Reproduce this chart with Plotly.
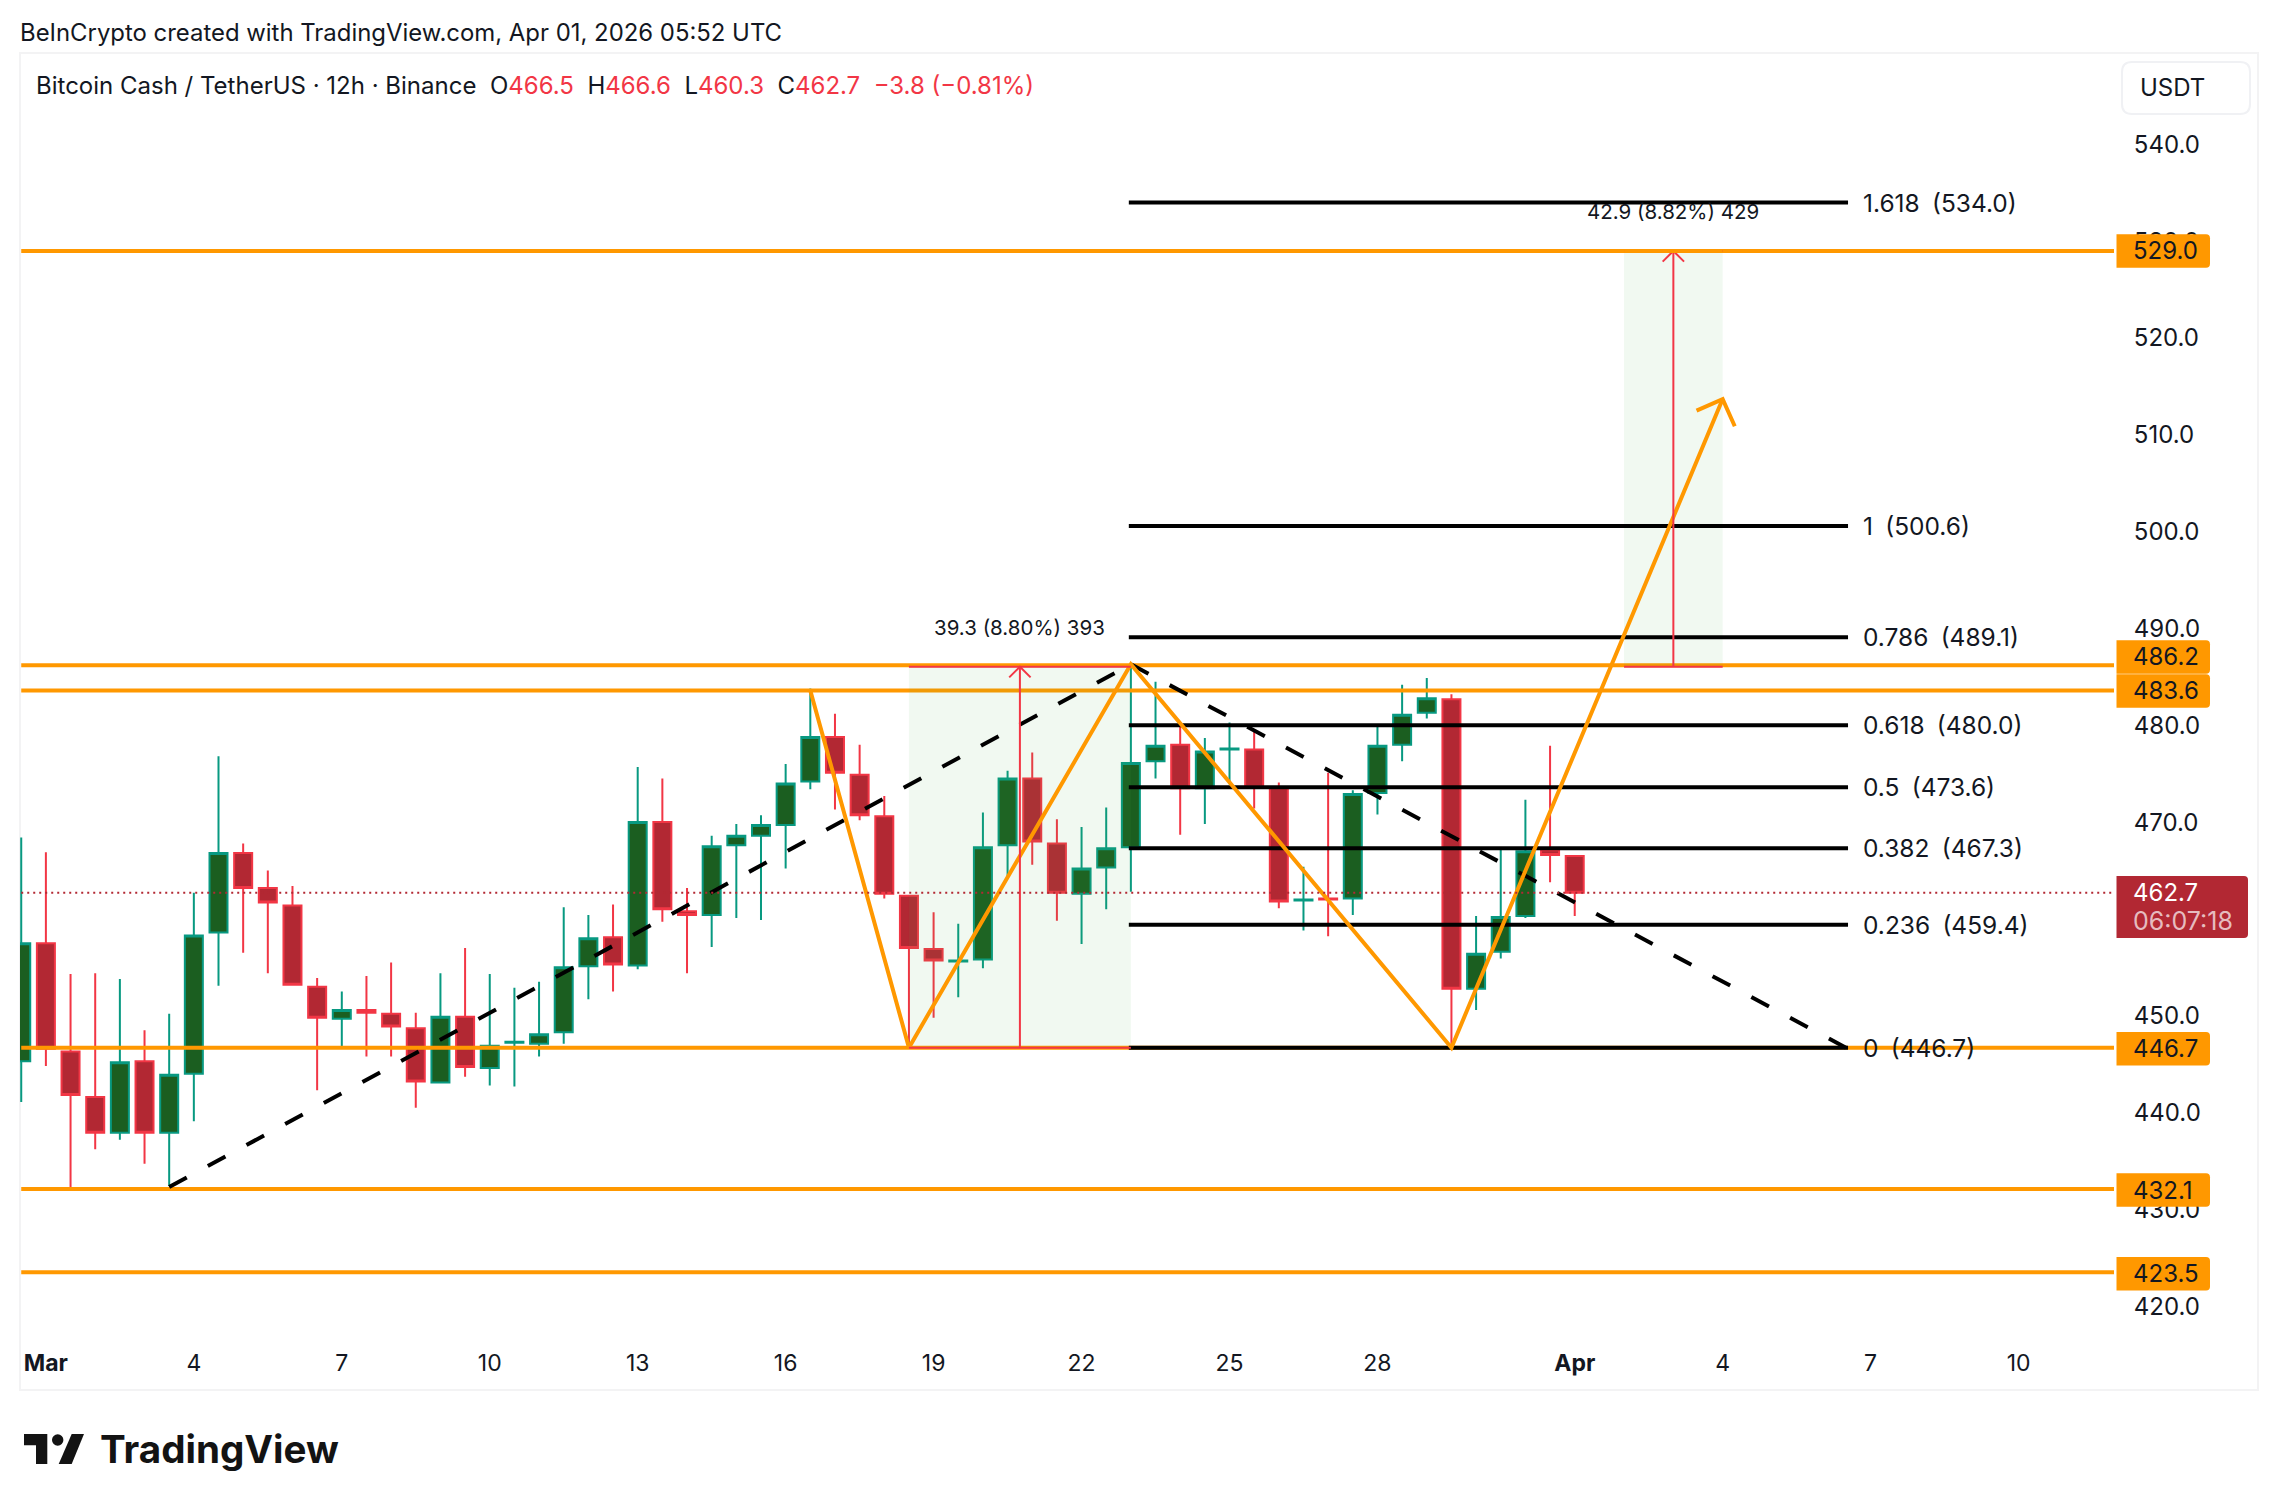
import plotly.graph_objects as go

W, H = 2278, 1510
FONT = "Inter"

# candles, 12h bars
times = [
    "2026-02-28 12:00", "2026-03-01 00:00", "2026-03-01 12:00", "2026-03-02 00:00", "2026-03-02 12:00",
    "2026-03-03 00:00", "2026-03-03 12:00", "2026-03-04 00:00", "2026-03-04 12:00", "2026-03-05 00:00",
    "2026-03-05 12:00", "2026-03-06 00:00", "2026-03-06 12:00", "2026-03-07 00:00", "2026-03-07 12:00",
    "2026-03-08 00:00", "2026-03-08 12:00", "2026-03-09 00:00", "2026-03-09 12:00", "2026-03-10 00:00",
    "2026-03-10 12:00", "2026-03-11 00:00", "2026-03-11 12:00", "2026-03-12 00:00", "2026-03-12 12:00",
    "2026-03-13 00:00", "2026-03-13 12:00", "2026-03-14 00:00", "2026-03-14 12:00", "2026-03-15 00:00",
    "2026-03-15 12:00", "2026-03-16 00:00", "2026-03-16 12:00", "2026-03-17 00:00", "2026-03-17 12:00",
    "2026-03-18 00:00", "2026-03-18 12:00", "2026-03-19 00:00", "2026-03-19 12:00", "2026-03-20 00:00",
    "2026-03-20 12:00", "2026-03-21 00:00", "2026-03-21 12:00", "2026-03-22 00:00", "2026-03-22 12:00",
    "2026-03-23 00:00", "2026-03-23 12:00", "2026-03-24 00:00", "2026-03-24 12:00", "2026-03-25 00:00",
    "2026-03-25 12:00", "2026-03-26 00:00", "2026-03-26 12:00", "2026-03-27 00:00", "2026-03-27 12:00",
    "2026-03-28 00:00", "2026-03-28 12:00", "2026-03-29 00:00", "2026-03-29 12:00", "2026-03-30 00:00",
    "2026-03-30 12:00", "2026-03-31 00:00", "2026-03-31 12:00", "2026-04-01 00:00",
]
opens = [
    445.3, 457.5, 446.3, 441.6, 437.9, 445.3, 437.9, 444.0, 458.6, 466.8, 463.2, 461.4, 453.0, 449.7, 450.6, 450.2,
    448.7, 443.1, 449.9, 444.6, 447.2, 447.1, 448.3, 455.1, 458.1, 455.2, 470.0, 460.8, 460.4, 467.6, 468.6, 469.7,
    474.2, 478.8, 474.9, 470.6, 462.4, 456.9, 455.6, 455.8, 467.6, 474.5, 467.8, 462.6, 465.3, 467.4, 476.3, 478.0,
    473.5, 477.5, 477.5, 473.5, 461.9, 462.1, 462.1, 473.0, 478.0, 481.3, 482.7, 452.8, 456.6, 460.3, 467.1, 466.5,
]
highs = [
    468.4, 466.9, 454.3, 454.4, 453.8, 448.5, 450.2, 462.7, 476.8, 467.8, 465.0, 463.4, 453.9, 452.5, 454.1, 455.5,
    450.3, 454.4, 457.0, 454.3, 452.9, 453.5, 461.2, 460.4, 461.5, 475.7, 474.5, 463.2, 468.6, 469.8, 470.7, 476.0,
    483.8, 481.2, 478.0, 472.7, 462.4, 460.7, 459.5, 471.0, 475.3, 477.2, 470.3, 469.5, 471.5, 486.4, 484.5, 480.2,
    478.7, 480.3, 479.4, 474.1, 465.4, 475.1, 473.3, 480.1, 484.2, 484.9, 483.2, 460.3, 467.4, 472.3, 477.9, 466.6,
]
lows = [
    441.1, 444.8, 432.1, 436.2, 437.2, 434.7, 432.4, 439.1, 453.1, 456.5, 454.4, 453.2, 442.3, 446.7, 445.8, 445.8,
    440.5, 443.1, 443.7, 442.8, 442.7, 445.8, 447.1, 451.7, 452.5, 454.8, 459.7, 454.4, 457.1, 460.1, 459.9, 465.2,
    473.4, 471.3, 470.2, 462.1, 446.7, 449.8, 451.9, 454.9, 464.2, 465.6, 459.8, 457.4, 461.0, 462.8, 474.5, 468.7,
    469.8, 473.9, 471.4, 461.1, 458.8, 458.2, 460.4, 470.8, 476.3, 480.7, 446.9, 450.6, 455.9, 460.1, 463.8, 460.3,
]
closes = [
    457.5, 446.6, 441.8, 437.9, 445.2, 437.9, 443.9, 458.3, 466.8, 463.2, 461.7, 453.2, 449.8, 450.6, 450.3, 448.9,
    443.2, 449.9, 444.7, 446.9, 447.3, 448.1, 455.0, 458.0, 455.3, 470.0, 461.0, 460.4, 467.5, 468.6, 469.7, 474.0,
    478.8, 475.1, 470.7, 462.6, 457.0, 455.7, 455.7, 467.4, 474.5, 468.0, 462.7, 465.2, 467.3, 476.1, 477.9, 473.5,
    477.3, 477.6, 473.6, 461.8, 462.0, 462.0, 472.9, 477.9, 481.1, 482.8, 452.8, 456.4, 460.2, 467.0, 466.6, 462.7,
]

# levels and drawings
level_prices = [529.0, 486.2, 483.6, 446.7, 432.1, 423.5]
level_tag_y = [251, 657, 691, 1048.7, 1190, 1273.7]
fib_ratios = ["1.618", "1", "0.786", "0.618", "0.5", "0.382", "0.236", "0"]
fib_prices = [534.0, 500.6, 489.1, 480.0, 473.6, 467.3, 459.4, 446.7]
fib_start, fib_end = "2026-03-22 23:00", "2026-04-06 13:00"
last_price = 462.7

dash_up_t = ["2026-03-03 12:00", "2026-03-23 00:00"]
dash_up_p = [432.3, 486.3]
dash_down_t = ["2026-03-23 00:00", "2026-04-06 12:00"]
dash_down_p = [486.3, 446.7]

zigzag_t = ["2026-03-16 12:00", "2026-03-18 12:00", "2026-03-23 00:00", "2026-03-29 12:00", "2026-04-04 00:00"]
zigzag_p = [483.6, 446.7, 486.3, 446.7, 513.7]
head_t = ["2026-04-03 11:17", "2026-04-04 00:00", "2026-04-04 05:53"]
head_p = [512.5, 513.7, 510.9]

box1_t = ["2026-03-18 12:00", "2026-03-23 00:00"]
box1_p = [446.7, 486.05]
arrow1_t = "2026-03-20 18:00"
box2_t = ["2026-04-02 00:00", "2026-04-04 00:00"]
box2_p = [486.05, 529.0]
arrow2_t = "2026-04-03 00:00"
arrow_head_hours = 5.2
arrow_head_price = 1.1

y_ticks = [420, 430, 440, 450, 470, 480, 490, 500, 510, 520, 530, 540]
x_ticks = [
    "2026-03-01", "2026-03-04", "2026-03-07", "2026-03-10", "2026-03-13", "2026-03-16", "2026-03-19",
    "2026-03-22", "2026-03-25", "2026-03-28", "2026-04-01", "2026-04-04", "2026-04-07", "2026-04-10",
]
x_labels = ["<b>Mar</b>", "4", "7", "10", "13", "16", "19", "22", "25", "28", "<b>Apr</b>", "4", "7", "10"]

ORANGE = "#FF9800"
RED = "#F23645"
TEXT = "#131722"


def px(x):
    return x / W


def py(y):
    return 1 - y / H


def shift_time(t, hours):
    from datetime import datetime, timedelta
    d = datetime.strptime(t, "%Y-%m-%d %H:%M") + timedelta(hours=hours)
    return d.strftime("%Y-%m-%d %H:%M")


def line(x, y, color, width, dash="solid"):
    return go.Scatter(x=x, y=y, mode="lines", line=dict(color=color, width=width, dash=dash),
                      hoverinfo="skip", showlegend=False)


def zone(t, p):
    return go.Scatter(x=[t[0], t[1], t[1], t[0], t[0]], y=[p[0], p[0], p[1], p[1], p[0]], mode="lines",
                      line=dict(width=0), fill="toself", fillcolor="rgba(76,175,80,0.08)",
                      hoverinfo="skip", showlegend=False)


def tag_path(x0, y0, x1, y1, r=4):
    # square on the left, small round corners on the right
    return (f"M {px(x0)} {py(y0)} L {px(x1 - r)} {py(y0)} Q {px(x1)} {py(y0)} {px(x1)} {py(y0 + r)} "
            f"L {px(x1)} {py(y1 - r)} Q {px(x1)} {py(y1)} {px(x1 - r)} {py(y1)} L {px(x0)} {py(y1)} Z")


fig = go.Figure()

for p in level_prices:
    fig.add_trace(line([times[0], "2026-04-12 00:00"], [p, p], ORANGE, 4))

fig.add_trace(zone(box1_t, box1_p))
fig.add_trace(zone(box2_t, box2_p))

for p in fib_prices:
    fig.add_trace(line([fib_start, fib_end], [p, p], "#000000", 4))

fig.add_trace(line(dash_up_t, dash_up_p, "#000000", 4, "20px,24px"))
fig.add_trace(line(dash_down_t, dash_down_p, "#000000", 4, "20px,24px"))
fig.add_trace(line(zigzag_t, zigzag_p, ORANGE, 4))
fig.add_trace(line(head_t, head_p, ORANGE, 4))

for box, top, arrow_t in [(box1_t, box1_p, arrow1_t), (box2_t, box2_p, arrow2_t)]:
    fig.add_trace(line(box, [top[0], top[0]], RED, 2))
    fig.add_trace(line(box, [top[1], top[1]], RED, 2))
    fig.add_trace(line([arrow_t, arrow_t], top, RED, 2))
    fig.add_trace(line([shift_time(arrow_t, -arrow_head_hours), arrow_t, shift_time(arrow_t, arrow_head_hours)],
                       [top[1] - arrow_head_price, top[1], top[1] - arrow_head_price], RED, 2))

# 529 sits over the red top edge of the second box
fig.add_trace(line(box2_t, [529.0, 529.0], ORANGE, 4))

fig.add_trace(go.Candlestick(
    x=times, open=opens, high=highs, low=lows, close=closes,
    increasing=dict(line=dict(color="#089981", width=2), fillcolor="#1B5E20"),
    decreasing=dict(line=dict(color=RED, width=2), fillcolor="#B22833"),
    hoverinfo="skip", showlegend=False,
))

fig.add_trace(line([times[0], "2026-04-12 00:00"], [last_price, last_price], "#B22833", 2, "2px,4px"))

annotations = []


def page_text(x, y, text, size=24, color=TEXT, anchor="left"):
    annotations.append(dict(xref="paper", yref="paper", x=px(x), y=py(y), text=text, showarrow=False,
                            xanchor=anchor, yanchor="middle", align="left",
                            font=dict(family=FONT, size=size, color=color)))


page_text(18, 32, "BeInCrypto created with TradingView.com, Apr 01, 2026 05:52 UTC", 23.9)
page_text(
    34, 86,
    "Bitcoin Cash / TetherUS · 12h · Binance  "
    f"O<span style='color:{RED}'>466.5</span>  H<span style='color:{RED}'>466.6</span>  "
    f"L<span style='color:{RED}'>460.3</span>  C<span style='color:{RED}'>462.7</span>  "
    f"<span style='color:{RED}'>−3.8 (−0.81%)</span>", 24)
page_text(2138, 87, "USDT", 24)

for r, p in zip(fib_ratios, fib_prices):
    annotations.append(dict(x=fib_end, y=p, xref="x", yref="y", text=f"{r}\u2002({p:.1f})", showarrow=False,
                            xanchor="left", yanchor="middle", xshift=13,
                            font=dict(family=FONT, size=24.5, color=TEXT)))

annotations.append(dict(x=arrow1_t, y=box1_p[1], xref="x", yref="y", text="39.3 (8.80%) 393", showarrow=False,
                        xanchor="center", yanchor="middle", yshift=39, font=dict(family=FONT, size=20.5, color=TEXT)))
annotations.append(dict(x=arrow2_t, y=box2_p[1], xref="x", yref="y", text="42.9 (8.82%) 429", showarrow=False,
                        xanchor="center", yanchor="middle", yshift=39, font=dict(family=FONT, size=20.5, color=TEXT)))

shapes = [
    # pane frame
    dict(type="rect", xref="paper", yref="paper", x0=px(20), x1=px(2258), y0=py(1390), y1=py(53),
         line=dict(color="#F3F3F4", width=2), layer="below"),
    # USDT button
    dict(type="path", xref="paper", yref="paper", layer="above", line=dict(color="#F0F1F4", width=2),
         path=(f"M {px(2132)} {py(62)} L {px(2240)} {py(62)} Q {px(2250)} {py(62)} {px(2250)} {py(72)} "
               f"L {px(2250)} {py(104)} Q {px(2250)} {py(114)} {px(2240)} {py(114)} L {px(2132)} {py(114)} "
               f"Q {px(2122)} {py(114)} {px(2122)} {py(104)} L {px(2122)} {py(72)} Q {px(2122)} {py(62)} {px(2132)} {py(62)} Z")),
    # TradingView mark
    dict(type="path", xref="paper", yref="paper", layer="above", fillcolor="#131313", line=dict(width=0),
         path=(f"M {px(24)} {py(1434)} L {px(47.3)} {py(1434)} L {px(47.3)} {py(1464)} L {px(36)} {py(1464)} "
               f"L {px(36)} {py(1445.3)} L {px(24)} {py(1445.3)} Z")),
    dict(type="circle", xref="paper", yref="paper", layer="above", fillcolor="#131313", line=dict(width=0),
         x0=px(52), x1=px(63.4), y0=py(1445.7), y1=py(1434.3)),
    dict(type="path", xref="paper", yref="paper", layer="above", fillcolor="#131313", line=dict(width=0),
         path=(f"M {px(71.7)} {py(1434)} L {px(84)} {py(1434)} L {px(71.7)} {py(1464)} L {px(58.7)} {py(1464)} Z")),
]

for p, yc in zip(level_prices, level_tag_y):
    shapes.append(dict(type="path", xref="paper", yref="paper", layer="above", fillcolor=ORANGE, line=dict(width=0),
                       path=tag_path(2116.5, yc - 16.7, 2210, yc + 16.7)))
    page_text(2131, yc, f"{p:.1f}", 24, TEXT)

shapes.append(dict(type="path", xref="paper", yref="paper", layer="above", fillcolor="#B22833", line=dict(width=0),
                   path=tag_path(2116.5, 876, 2248, 938)))
page_text(2131, 892.7, f"{last_price:.1f}", 24, "#FFFFFF")
page_text(2131, 920.7, "06:07:18", 25, "rgba(255,255,255,0.7)")

page_text(98, 1449, "<b>TradingView</b>", 38.6, "#131313")

fig.update_layout(
    width=W, height=H, margin=dict(l=0, r=0, t=0, b=0),
    paper_bgcolor="#FFFFFF", plot_bgcolor="#FFFFFF",
    showlegend=False, boxmode="overlay", boxgap=0.27, boxgroupgap=0,
    annotations=annotations, shapes=shapes,
    font=dict(family=FONT, size=24, color=TEXT),
    xaxis=dict(
        domain=[px(20), px(2114)], type="date", range=["2026-02-28 11:24", "2026-04-11 22:26"],
        tickmode="array", tickvals=x_ticks, ticktext=x_labels, tickangle=0,
        showgrid=False, zeroline=False, showline=False, rangeslider=dict(visible=False),
        ticks="outside", ticklen=7, tickcolor="rgba(0,0,0,0)", anchor="y",
        tickfont=dict(family=FONT, size=23, color=TEXT),
    ),
    yaxis=dict(
        domain=[py(1335), py(53)], range=[417.02, 549.45], side="right",
        tickmode="array", tickvals=y_ticks, ticktext=[f"{v:.1f}" for v in y_ticks],
        showgrid=False, zeroline=False, showline=False,
        ticks="outside", ticklen=14, tickcolor="rgba(0,0,0,0)", anchor="x",
        tickfont=dict(family=FONT, size=24, color=TEXT),
    ),
)

fig.write_html("out.html", config={"displayModeBar": False},
               post_script="document.body.style.margin='0';")
